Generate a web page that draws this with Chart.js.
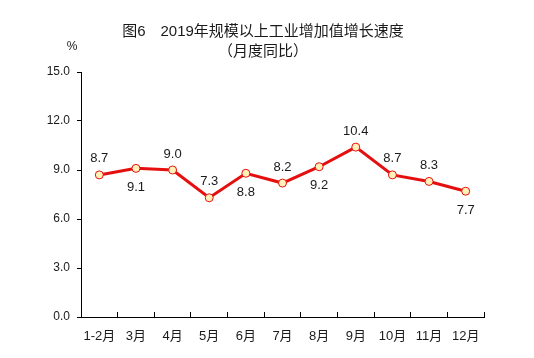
<!DOCTYPE html>
<html lang="zh">
<head>
    <meta charset="UTF-8">
    <title>2019年规模以上工业增加值增长速度</title>
    <script src="https://cdn.jsdelivr.net/npm/chart.js"></script>
    <style>
        html, body { margin: 0; padding: 0; background: #ffffff; }
        #wrap { width: 534px; height: 358px; position: relative; }
    </style>
</head>
<body>
    <div id="wrap"><canvas id="growthChart"></canvas></div>

    <script>
        // chart data
        const months = ['1-2月', '3月', '4月', '5月', '6月', '7月', '8月', '9月', '10月', '11月', '12月'];
        const growth = [8.7, 9.1, 9.0, 7.3, 8.8, 8.2, 9.2, 10.4, 8.7, 8.3, 7.7];
        // where each value label sits: 1 = above the point, -1 = below
        const labelSide = [1, -1, 1, 1, -1, 1, -1, 1, 1, 1, -1];
        const yTicks = [0, 3, 6, 9, 12, 15];

        const titleLines = ['图6　2019年规模以上工业增加值增长速度', '（月度同比）'];
        const unitLabel = '%';

        const FONT = '"Liberation Sans", "Noto Sans CJK SC", sans-serif';

        // titles, unit and point labels
        const textPlugin = {
            id: 'textPlugin',
            afterDraw(chart) {
                const ctx = chart.ctx;
                const area = chart.chartArea;
                ctx.save();
                ctx.fillStyle = '#1a1a1a';
                ctx.textAlign = 'center';
                ctx.textBaseline = 'middle';
                ctx.font = '15px ' + FONT;
                ctx.fillText(titleLines[0], 263, 32);
                ctx.fillText(titleLines[1], 263, 52);

                ctx.font = '12px ' + FONT;
                ctx.fillText(unitLabel, area.left - 9, 47);

                ctx.font = '13px ' + FONT;
                const meta = chart.getDatasetMeta(0);
                meta.data.forEach((pt, i) => {
                    const dy = labelSide[i] > 0 ? -16 : 19;
                    ctx.fillText(growth[i].toFixed(1), pt.x, pt.y + dy);
                });
                ctx.restore();
            }
        };

        new Chart(document.getElementById('growthChart'), {
            type: 'line',
            data: {
                labels: months,
                datasets: [{
                    data: growth,
                    borderColor: '#e50f0f',
                    borderWidth: 3,
                    tension: 0,
                    pointRadius: 4,
                    pointBorderWidth: 1,
                    pointBorderColor: '#e50f0f',
                    pointBackgroundColor: '#fff1b8'
                }]
            },
            options: {
                responsive: true,
                maintainAspectRatio: false,
                animation: false,
                layout: { padding: { top: 72, right: 50, left: 0, bottom: 0 } },
                plugins: {
                    legend: { display: false },
                    tooltip: { enabled: false }
                },
                scales: {
                    x: {
                        offset: true,
                        grid: {
                            offset: true,
                            drawOnChartArea: false,
                            color: '#000',
                            tickLength: -5
                        },
                        border: { color: '#000', width: 1 },
                        ticks: {
                            color: '#1a1a1a',
                            font: { family: FONT, size: 13 },
                            padding: 17,
                            maxRotation: 0,
                            autoSkip: false
                        },
                        afterFit(scale) { scale.height = 41; }
                    },
                    y: {
                        min: 0,
                        max: 15,
                        afterBuildTicks(scale) {
                            scale.ticks = yTicks.map(v => ({ value: v }));
                        },
                        grid: {
                            drawOnChartArea: false,
                            color: '#000',
                            tickLength: 4
                        },
                        border: { color: '#000', width: 1 },
                        ticks: {
                            color: '#1a1a1a',
                            font: { family: FONT, size: 12 },
                            padding: 7,
                            callback: v => Number(v).toFixed(1)
                        },
                        afterFit(scale) { scale.width = 81; }
                    }
                }
            },
            plugins: [textPlugin]
        });
    </script>
</body>
</html>
